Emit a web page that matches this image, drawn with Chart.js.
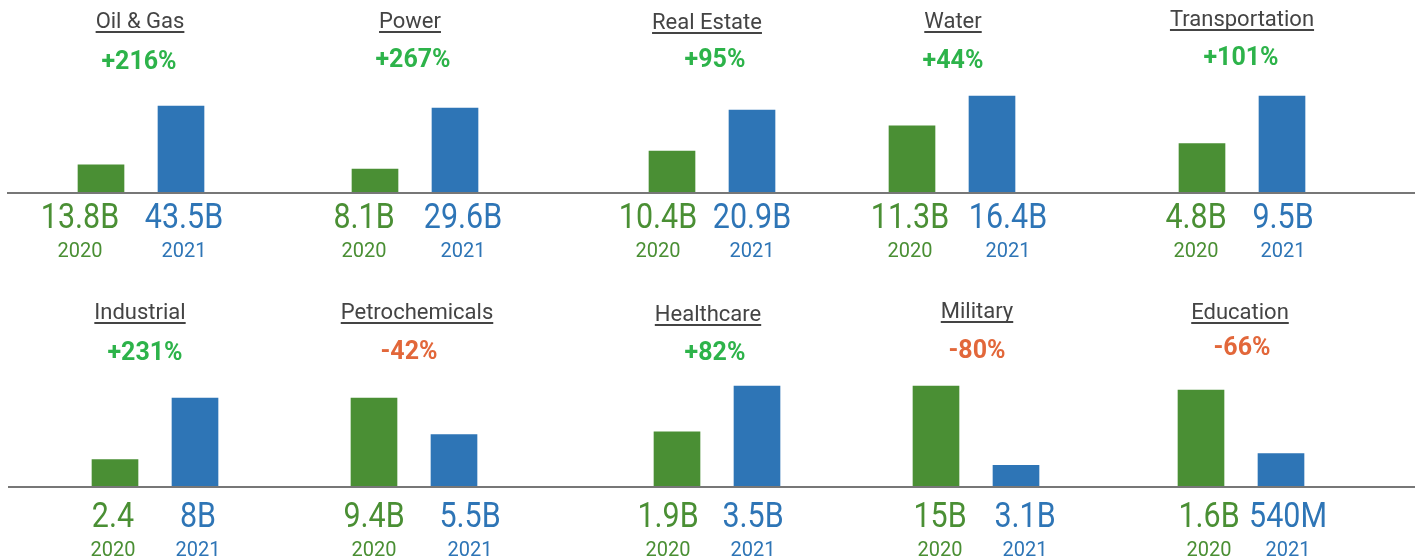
<!DOCTYPE html>
<html>
<head>
<meta charset="utf-8">
<script src="https://cdn.jsdelivr.net/npm/chart.js@4.4.1/dist/chart.umd.min.js"></script>
<style>
    html, body { margin: 0; padding: 0; background: #fff; }
    #wrap { position: relative; width: 1415px; height: 560px; overflow: hidden; }
    #wrap canvas { position: absolute; }
</style>
</head>
<body>
<div id="wrap"></div>
<script>
const categories = ['Oil & Gas', 'Power', 'Real Estate', 'Water', 'Transportation',
                    'Industrial', 'Petrochemicals', 'Healthcare', 'Military', 'Education'];
const years = ['2020', '2021'];
const values2020 = [13.8, 8.1, 10.4, 11.3, 4.8, 2.4, 9.4, 1.9, 15, 1.6];
const values2021 = [43.5, 29.6, 20.9, 16.4, 9.5, 8, 5.5, 3.5, 3.1, 0.54];
const labels2020 = ['13.8B', '8.1B', '10.4B', '11.3B', '4.8B', '2.4', '9.4B', '1.9B', '15B', '1.6B'];
const labels2021 = ['43.5B', '29.6B', '20.9B', '16.4B', '9.5B', '8B', '5.5B', '3.5B', '3.1B', '540M'];
const changes = ['+216%', '+267%', '+95%', '+44%', '+101%', '+231%', '-42%', '+82%', '-80%', '-66%'];

const GREEN = '#4a8f34';
const BLUE = '#2e75b6';
const UP = '#2db34a';
const DOWN = '#e2673a';

// layout of the two rows of small multiples
const rows = [
    { top: 0, height: 280, base: 192, left: 7,
      centers: [141, 415, 712, 952, 1242],
      titleX: [140, 410, 707, 953, 1242], titleY: [28, 28, 29, 28, 26],
      pctX: [139, 413, 715, 953, 1241], pctY: [69, 67, 67, 68, 65],
      labelX0: [80, 364, 658, 910, 1196], labelX1: [184, 463, 752, 1008, 1283],
      valueDy: 36, yearDy: 65 },
    { top: 290, height: 270, base: 486, left: 8,
      centers: [155, 414, 717, 976, 1241],
      titleX: [140, 417, 708, 977, 1240], titleY: [319, 319, 321, 318, 319],
      pctX: [145, 409, 715, 977, 1242], pctY: [360, 359, 360, 358, 355],
      labelX0: [113, 374, 668, 940, 1209], labelX1: [198, 470, 753, 1025, 1288],
      valueDy: 41, yearDy: 70 }
];
// pixel height of the tallest bar in each panel
const tallestPx = [86, 84, 82, 96, 96, 88, 88, 100, 100, 96];
const plotH = 110;
const halfW = 80;

const wrap = document.getElementById('wrap');

rows.forEach((row, r) => {
    row.centers.forEach((cx, c) => {
        const i = r * 5 + c;
        const left = c === 0 ? row.left : Math.round((row.centers[c - 1] + cx) / 2);
        const right = c === 4 ? 1415 : Math.round((cx + row.centers[c + 1]) / 2);
        const width = right - left;
        const baseRel = row.base - row.top;

        const canvas = document.createElement('canvas');
        canvas.width = width;
        canvas.height = row.height;
        canvas.style.left = left + 'px';
        canvas.style.top = row.top + 'px';
        canvas.style.width = width + 'px';
        canvas.style.height = row.height + 'px';
        wrap.appendChild(canvas);

        const tallest = Math.max(values2020[i], values2021[i]);
        const yMax = tallest * plotH / tallestPx[i];
        const valueLabels = [labels2020[i], labels2021[i]];
        const labelX = [row.labelX0[c] - left, row.labelX1[c] - left];
        const colors = [GREEN, BLUE];

        const panelPlugin = {
            id: 'panel' + i,
            afterDatasetsDraw(chart) {
                const ctx = chart.ctx;
                const area = chart.chartArea;
                ctx.save();

                // baseline across the whole panel
                ctx.fillStyle = '#777';
                ctx.fillRect(0, area.bottom, chart.width, 2);

                ctx.textAlign = 'center';
                ctx.textBaseline = 'alphabetic';

                // underlined title
                const tx = row.titleX[c] - left;
                const ty = row.titleY[c] - row.top;
                ctx.font = '22px Roboto';
                ctx.fillStyle = '#444';
                ctx.fillText(categories[i], tx, ty);
                const tw = ctx.measureText(categories[i]).width;
                ctx.fillRect(tx - tw / 2, ty + 3, tw, 2);

                // change percentage
                ctx.font = 'bold 25px Roboto';
                ctx.fillStyle = changes[i].startsWith('-') ? DOWN : UP;
                ctx.fillText(changes[i], row.pctX[c] - left, row.pctY[c] - row.top);

                // value + year under each bar
                valueLabels.forEach((txt, k) => {
                    ctx.fillStyle = colors[k];
                    ctx.save();
                    ctx.translate(labelX[k], area.bottom + row.valueDy);
                    ctx.scale(0.87, 1);
                    ctx.font = '35px Roboto';
                    ctx.fillText(txt, 0, 0);
                    ctx.restore();
                    ctx.font = '20px Roboto';
                    ctx.fillText(years[k], labelX[k], area.bottom + row.yearDy);
                });
                ctx.restore();
            }
        };

        new Chart(canvas, {
            type: 'bar',
            data: {
                labels: years,
                datasets: [{
                    data: [values2020[i], values2021[i]],
                    backgroundColor: colors,
                    barThickness: 46,
                    borderWidth: 0
                }]
            },
            options: {
                responsive: false,
                animation: false,
                devicePixelRatio: 1,
                layout: {
                    padding: {
                        left: cx - halfW - left,
                        right: right - (cx + halfW),
                        top: baseRel - plotH,
                        bottom: row.height - baseRel
                    }
                },
                plugins: {
                    legend: { display: false },
                    tooltip: { enabled: false }
                },
                scales: {
                    x: { display: false },
                    y: { display: false, min: 0, max: yMax }
                }
            },
            plugins: [panelPlugin]
        });
    });
});
</script>
</body>
</html>
